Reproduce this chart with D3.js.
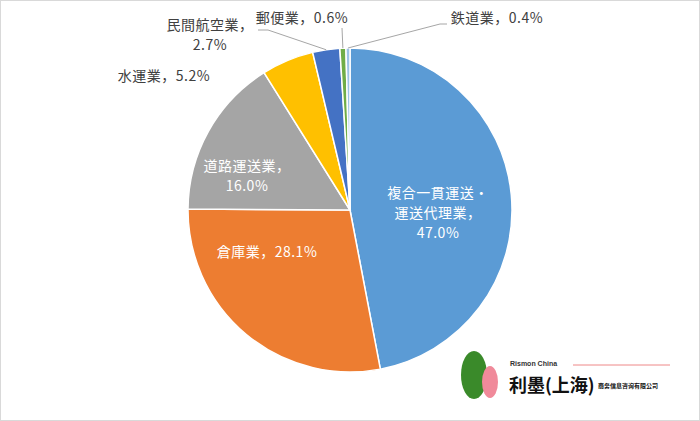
<!DOCTYPE html><html><head><meta charset="utf-8"><script src="https://cdn.jsdelivr.net/npm/d3@7"></script>
<style>body{margin:0}</style></head><body><svg id="c" width="700" height="421"></svg><script>
const categories=["複合一貫運送・運送代理業","倉庫業","道路運送業","水運業","民間航空業","郵便業","鉄道業"];
const values=[47.0,28.1,16.0,5.2,2.7,0.6,0.4];
const colors=["#5B9BD5","#ED7D31","#A5A5A5","#FFC000","#4472C4","#70AD47","#9DC3E6"];
const svg=d3.select("#c");
svg.append("rect").attr("x",0.5).attr("y",0.5).attr("width",699).attr("height",420).attr("fill","#fff").attr("stroke","#d9d9d9");
const cx=350,cy=210,r=162;
const g=svg.append("g").attr("transform",`translate(${cx},${cy})`);
const pie=d3.pie().sort(null).value(d=>d)(values);
const arc=d3.arc().innerRadius(0).outerRadius(r);
g.selectAll("path").data(pie).join("path").attr("d",arc).attr("fill",(d,i)=>colors[i]).attr("stroke","#fff").attr("stroke-width",1.5);
const font="'Noto Sans CJK JP',sans-serif";
function lbl(lines,x,y,fill,anchor){const t=svg.append("text").attr("x",x).attr("y",y).attr("fill",fill).attr("font-family",font).attr("font-size",14).attr("letter-spacing",0.5).attr("text-anchor",anchor||"middle");
lines.forEach((l,i)=>t.append("tspan").attr("x",x).attr("dy",i?20:0).text(l));}
const pct=v=>v.toFixed(1)+"%";
lbl(["複合一貫運送・","運送代理業，",pct(values[0])],438,198,"#fff");
lbl(["倉庫業，"+pct(values[1])],267,257,"#fff");
lbl(["道路運送業，",pct(values[2])],247,171,"#fff");
lbl(["水運業，"+pct(values[3])],164,81,"#404040");
lbl(["民間航空業，",pct(values[4])],210,30,"#404040");
lbl(["郵便業，"+pct(values[5])],302,23,"#404040");
lbl(["鉄道業，"+pct(values[6])],497,23,"#404040");
const line=(pts)=>svg.append("polyline").attr("points",pts.map(p=>p.join(",")).join(" ")).attr("fill","none").attr("stroke","#a6a6a6").attr("stroke-width",1);
function edge(i){const a=(pie[i].startAngle+pie[i].endAngle)/2;return [cx+r*Math.sin(a),cy-r*Math.cos(a)];}
line([[258,30],[268,30],edge(4)]);
line([[342,28],edge(5)]);
line([[447,24],[440,24],edge(6)]);
// logo
const lg=svg.append("g");
lg.append("text").attr("x",510).attr("y",366).attr("font-family","Arial").attr("font-size",7).attr("font-weight","bold").attr("fill","#333").text("Rismon China");
lg.append("text").attr("x",509).attr("y",392).attr("font-family",font).attr("font-size",18).attr("font-weight","bold").attr("fill","#111").text("利墨(上海)");
lg.append("text").attr("x",598).attr("y",388).attr("font-family",font).attr("font-size",6).attr("font-weight","bold").attr("fill","#111").text("商务信息咨询有限公司");
lg.append("line").attr("x1",573).attr("x2",670).attr("y1",365).attr("y2",365).attr("stroke","#e88");
lg.append("ellipse").attr("cx",474).attr("cy",375).attr("rx",13).attr("ry",24).attr("fill","#3a8a2a");
lg.append("ellipse").attr("cx",490).attr("cy",382).attr("rx",8).attr("ry",16).attr("fill","#f08a9a");
</script></body></html>
